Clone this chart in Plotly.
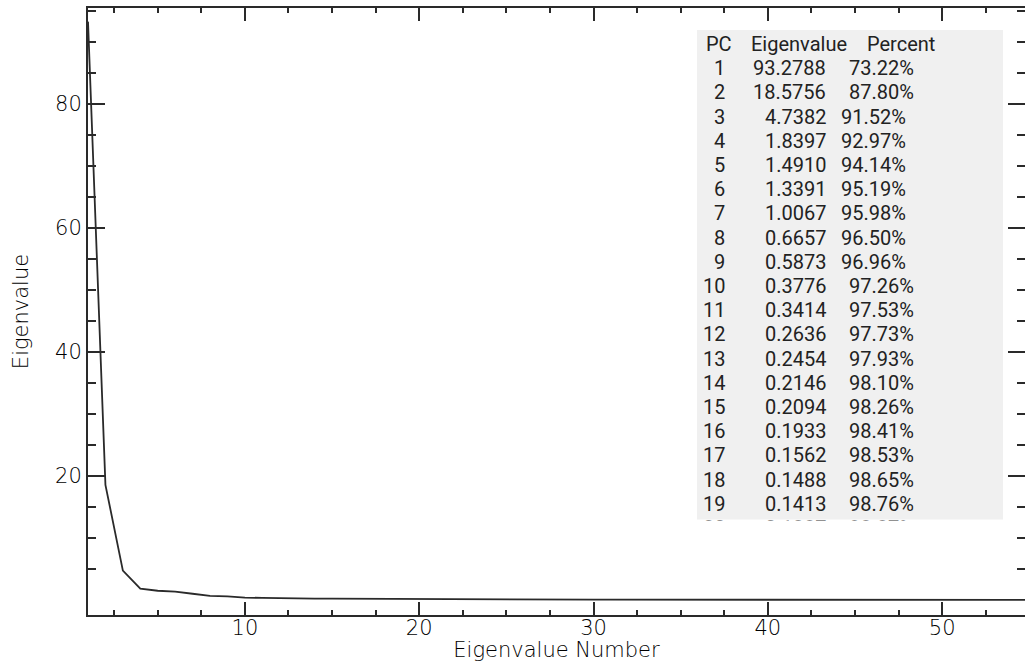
import plotly.graph_objects as go

# ---- data -------------------------------------------------------------
pc_numbers = list(range(1, 21))
eigenvalues_listed = [93.2788, 18.5756, 4.7382, 1.8397, 1.4910, 1.3391, 1.0067,
                      0.6657, 0.5873, 0.3776, 0.3414, 0.2636, 0.2454, 0.2146,
                      0.2094, 0.1933, 0.1562, 0.1488, 0.1413, 0.1387]
cumulative_percent = [73.22, 87.80, 91.52, 92.97, 94.14, 95.19, 95.98, 96.50,
                      96.96, 97.26, 97.53, 97.73, 97.93, 98.10, 98.26, 98.41,
                      98.53, 98.65, 98.76, 98.87]
# remaining components (21..55), all close to zero
eigenvalues_tail = [0.1302, 0.1189, 0.1095, 0.0987, 0.0904, 0.0836, 0.0771,
                    0.0702, 0.0655, 0.0598, 0.0552, 0.0507, 0.0468, 0.0431,
                    0.0397, 0.0366, 0.0338, 0.0311, 0.0287, 0.0265, 0.0244,
                    0.0226, 0.0209, 0.0193, 0.0178, 0.0164, 0.0152, 0.0140,
                    0.0129, 0.0119, 0.0110, 0.0101, 0.0093, 0.0086, 0.0079]

eigen_all = eigenvalues_listed + eigenvalues_tail
eigen_number = list(range(1, len(eigen_all) + 1))

x_ticks = [10, 20, 30, 40, 50]
y_ticks = [20, 40, 60, 80]
y_minor = [v for v in range(5, 100, 5) if v not in y_ticks]

# ---- page geometry ------------------------------------------------------
W, H = 1025, 662
L, R, T, B = 88, 1025, 8, 615

def px_x(px):
    return (px - L) / (R - L)

def px_y(py):
    return (B - py) / (B - T)

INK = "#2a2a2a"
AXIS_FONT = dict(family="DejaVu Sans", size=21, color="#000000", weight=200)
TABLE_FONT = dict(family="Roboto", size=20, color="#222222")

fig = go.Figure()
fig.add_trace(go.Scatter(x=eigen_number, y=eigen_all, mode="lines",
                         line=dict(color=INK, width=1.8),
                         hoverinfo="skip", showlegend=False))
# carriers for the top and right frame axes
fig.add_trace(go.Scatter(x=[None], y=[None], xaxis="x2", yaxis="y",
                         showlegend=False, hoverinfo="skip"))
fig.add_trace(go.Scatter(x=[None], y=[None], xaxis="x", yaxis="y2",
                         showlegend=False, hoverinfo="skip"))

axis_common = dict(showgrid=False, zeroline=False, linecolor=INK,
                   tickcolor=INK, ticks="inside", tickwidth=1.6)

fig.update_layout(
    width=W, height=H,
    margin=dict(l=L, r=W - R, t=T, b=H - B, pad=0),
    paper_bgcolor="white", plot_bgcolor="white",
    xaxis=dict(range=[1, 54.75], tickmode="array", tickvals=x_ticks,
               ticklen=13, showline=True, linewidth=2,
               tickfont=AXIS_FONT, ticklabelstandoff=-7,
               minor=dict(dtick=2.5, tick0=0, ticks="inside", ticklen=5,
                          tickwidth=1.6, tickcolor=INK),
               title=dict(text="Eigenvalue Number", font=AXIS_FONT, standoff=5),
               **axis_common),
    xaxis2=dict(overlaying="x", matches="x", side="top", anchor="y",
                tickmode="array", tickvals=x_ticks, ticklen=13,
                showline=True, linewidth=2, showticklabels=False,
                minor=dict(dtick=2.5, tick0=0, ticks="inside", ticklen=5,
                           tickwidth=1.6, tickcolor=INK),
                **axis_common),
    yaxis=dict(range=[-2.42, 95.48], tickmode="array", tickvals=y_ticks,
               ticklen=17, showline=True, linewidth=2,
               tickfont=AXIS_FONT, ticklabelstandoff=0,
               minor=dict(tickmode="array", tickvals=y_minor, ticks="inside",
                          ticklen=8, tickwidth=1.6, tickcolor=INK),
               title=dict(text="Eigenvalue", font=AXIS_FONT, standoff=21),
               **axis_common),
    yaxis2=dict(overlaying="y", matches="y", side="right", anchor="x",
                tickmode="array", tickvals=y_ticks, ticklen=17,
                showline=False, showticklabels=False,
                minor=dict(tickmode="array", tickvals=y_minor, ticks="inside",
                           ticklen=8, tickwidth=1.6, tickcolor=INK),
                **axis_common),
)

# ---- statistics list panel ---------------------------------------------
panel_left, panel_right, panel_top, panel_bottom = 697, 1003, 30, 519.5
fig.add_shape(type="rect", xref="paper", yref="paper", layer="below",
              x0=px_x(panel_left), x1=px_x(panel_right),
              y0=px_y(panel_bottom), y1=px_y(panel_top),
              fillcolor="#f0f0f0", line=dict(width=0))

annotations = []

def add_text(text, x_px, y_px, xanchor):
    annotations.append(dict(text=text, x=px_x(x_px), y=px_y(y_px),
                            xref="paper", yref="paper", xanchor=xanchor,
                            yanchor="middle", showarrow=False,
                            font=TABLE_FONT))

header_y = 44
row_step = 24.2
add_text("PC", 704, header_y, "left")
add_text("Eigenvalue", 749, header_y, "left")
add_text("Percent", 865, header_y, "left")

for i, (pc, ev, pct) in enumerate(zip(pc_numbers, eigenvalues_listed,
                                      cumulative_percent)):
    y = header_y + row_step * (i + 1)
    ev_str = f"{ev:.4f}"
    pc_str = str(pc)
    # the list pads fields with spaces, so the percent column drifts slightly
    shift = (len(pc_str) - 1) + (len(ev_str) - 6)
    add_text(pc_str, 727, y, "right")
    add_text(ev_str, 827.5, y, "right")
    add_text(f"{pct:.2f}%", 839 + 7.5 * min(shift, 1), y, "left")

# the list box clips its last visible row
annotations.append(dict(text=" ", x=px_x((panel_left + panel_right) / 2),
                        y=px_y(panel_bottom), xref="paper", yref="paper",
                        xanchor="center", yanchor="top", showarrow=False,
                        width=panel_right - panel_left + 2, height=30,
                        bgcolor="white", borderpad=0,
                        font=dict(size=10)))

fig.update_layout(annotations=annotations)

fig.write_html("out.html")
